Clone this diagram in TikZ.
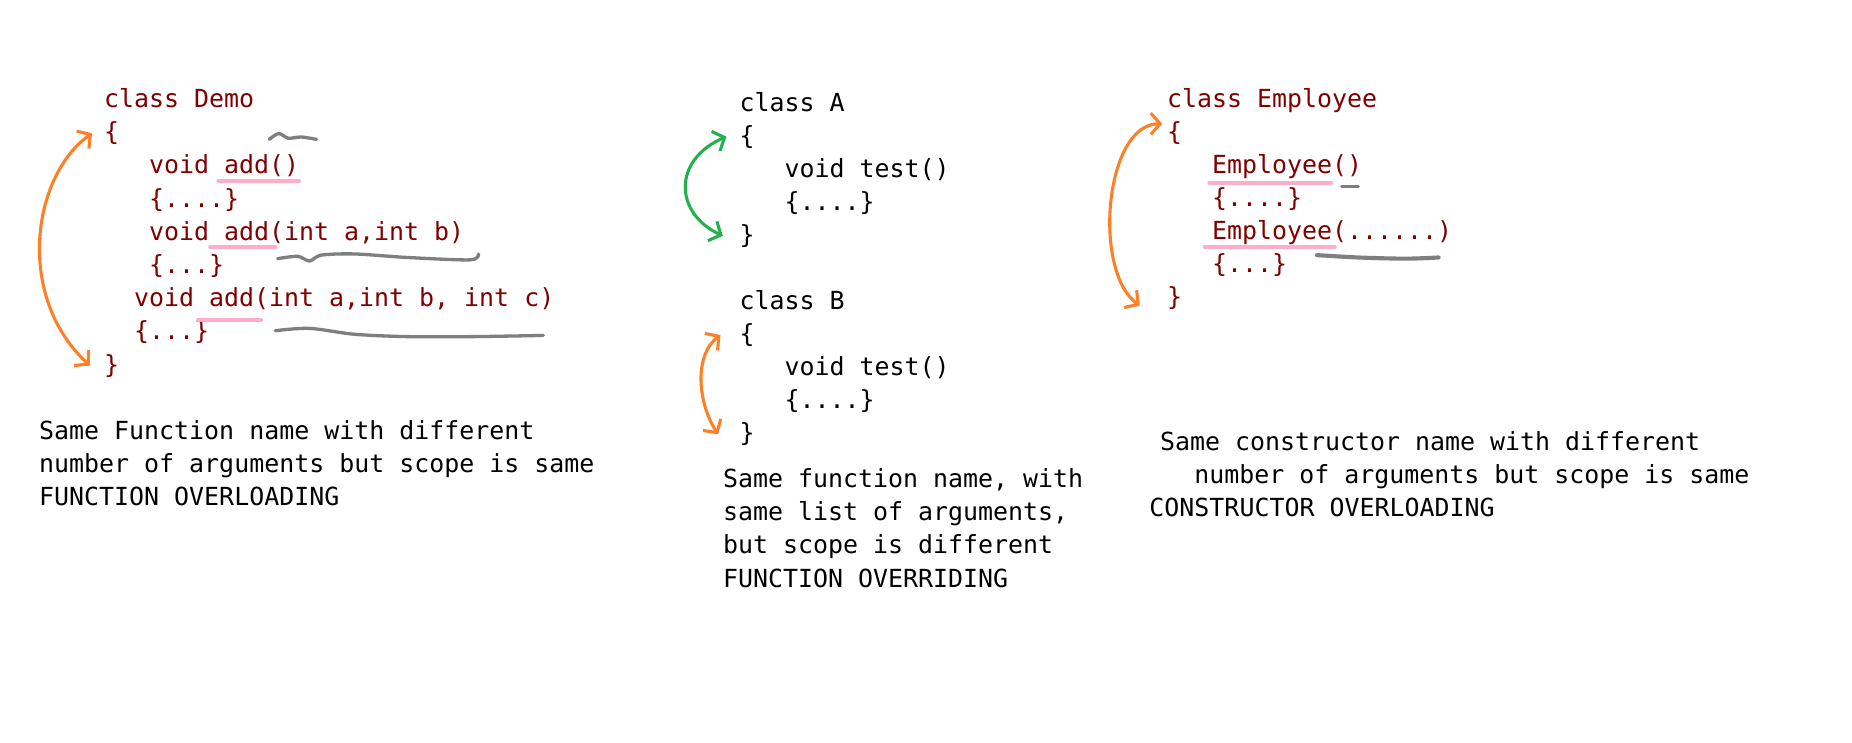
\documentclass[tikz,border=0pt]{standalone}
\usepackage{fontspec}
\setmonofont{DejaVu Sans Mono}
\usetikzlibrary{arrows.meta}

\definecolor{codered}{RGB}{128,0,0}
\definecolor{penorange}{RGB}{255,127,39}
\definecolor{pengreen}{RGB}{34,177,76}
\definecolor{penpink}{RGB}{255,174,201}
\definecolor{pengray}{RGB}{127,127,127}

\tikzset{
    code/.style={font=\ttfamily\fontsize{21.1}{28}\selectfont, inner sep=0pt, anchor=base west},
    redcode/.style={code, text=codered},
    twoway/.style={line width=2.6pt, line cap=round, line join=round,
        arrows={Straight Barb[length=8pt,width=18pt]-Straight Barb[length=8pt,width=18pt]}},
    underpen/.style={draw=penpink, line width=3.5pt, line cap=round},
    scribble/.style={draw=pengray, line width=2.8pt, line cap=round, line join=round}
}

\begin{document}
\frenchspacing
\begin{tikzpicture}[x=1pt,y=-1pt]
  % Page
    \path[use as bounding box, fill=white] (0,0) rectangle (1568,629);

  % class Demo
    \foreach \ind/\txt [count=\i from 0] in {0/{class Demo}, 0/\{, 3/{void add()}, 3/{\{....\}},
        3/{void add(int a,int b)}, 3/{\{...\}}, 2/{void add(int a,int b, int c)}, 2/{\{...\}}, 0/\}}
      \node[redcode] (demo\i) at ({88+\ind*12.7},{91+\i*28.1}) {\txt};

    \foreach \txt [count=\i from 0] in {{Same Function name with different},
        {number of arguments but scope is same}, {FUNCTION OVERLOADING}}
      \node[code] (demoNote\i) at (33,{372+\i*28}) {\txt};

  % class A and class B
    \foreach \ind/\txt [count=\i from 0] in {0/{class A}, 0/\{, 3/{void test()}, 3/{\{....\}}, 0/\}}
      \node[code] (a\i) at ({626+\ind*12.7},{94+\i*28}) {\txt};
    \foreach \ind/\txt [count=\i from 0] in {0/{class B}, 0/\{, 3/{void test()}, 3/{\{....\}}, 0/\}}
      \node[code] (b\i) at ({626+\ind*12.7},{262+\i*28}) {\txt};

    \foreach \txt [count=\i from 0] in {{Same function name, with}, {same list of arguments,},
        {but scope is different}, {FUNCTION OVERRIDING}}
      \node[code] (overNote\i) at (612,{413+\i*28}) {\txt};

  % class Employee
    \foreach \ind/\txt [count=\i from 0] in {0/{class Employee}, 0/\{, 3/{Employee()}, 3/{\{....\}},
        3/{Employee(......)}, 3/{\{...\}}, 0/\}}
      \node[redcode] (emp\i) at ({988+\ind*12.7},{91+\i*28}) {\txt};

    \node[code] (empNoteA) at (982,381) {Same constructor name with different};
    \node[code] (empNoteB) at (1011,409) {number of arguments but scope is same};
    \node[code] (empNoteC) at (973,437) {CONSTRUCTOR OVERLOADING};

  % Hand drawn arrows
    \draw[twoway, penorange] ([xshift=-10pt]demo1.west) .. controls (28,148) and (12,250) .. ([xshift=-12pt]demo8.west);
    \draw[twoway, pengreen] ([xshift=-11pt]a1.west) .. controls (570,135) and (570,180) .. ([xshift=-14pt]a4.west);
    \draw[twoway, penorange] ([xshift=-16pt]b1.west) .. controls (588,300) and (590,340) .. ([xshift=-18pt]b4.west);
    \draw[twoway, penorange] ([xshift=-4pt,yshift=8pt]emp1.west) .. controls (935,105) and (925,230) .. ([xshift=-23pt,yshift=-6pt]emp6.west);

  % Pink underlines
    \draw[underpen] (185,153) -- (253,153);
    \draw[underpen] (178,209) -- (233,209);
    \draw[underpen] (168,271) -- (221,271);
    \draw[underpen] (1024,155) -- (1127,155);
    \draw[underpen] (1020,209) -- (1130,209);

  % Gray scribbles
    \draw[scribble] plot[smooth] coordinates {(228,118) (236,113) (244,117) (255,116) (268,118)};
    \draw[scribble] plot[smooth] coordinates {(235,219) (252,217) (262,221) (272,216) (300,215) (345,218) (398,220) (405,215)};
    \draw[scribble] plot[smooth] coordinates {(233,280) (262,278) (300,283) (345,285) (400,285) (460,284)};
    \draw[scribble] (1136,158) -- (1150,158);
    \draw[scribble, line width=3.5pt] plot[smooth] coordinates {(1115,216) (1150,218) (1190,219) (1218,218)};
  \end{tikzpicture}
\end{document}
